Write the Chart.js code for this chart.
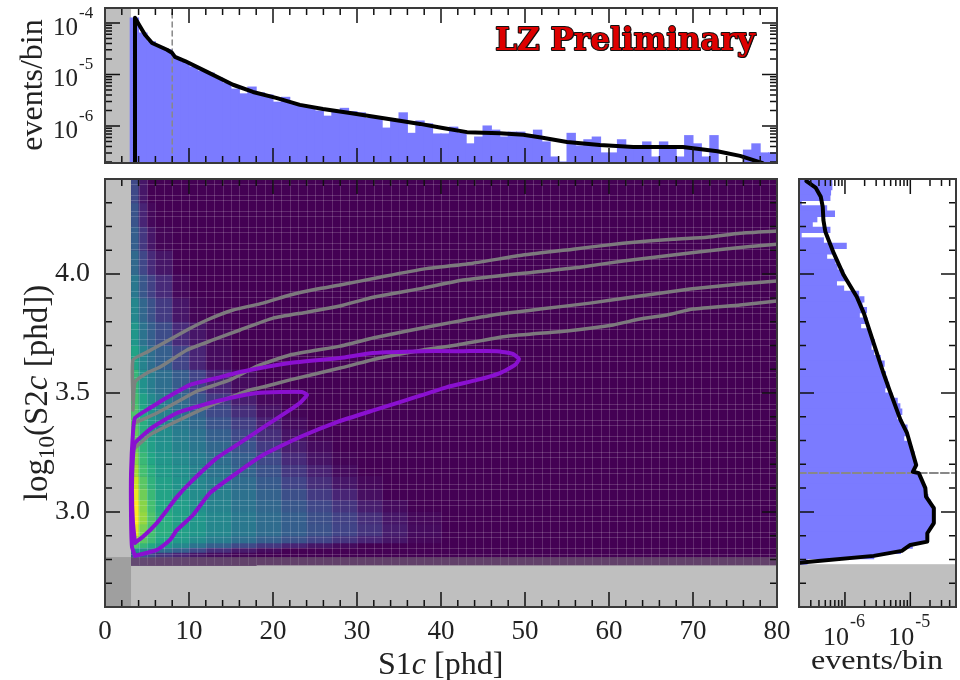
<!DOCTYPE html>
<html>
<head>
<meta charset="utf-8">
<title>LZ Preliminary</title>
<script src="https://cdn.jsdelivr.net/npm/chart.js@4"></script>
<style>
    html, body { margin: 0; padding: 0; background: #fff; width: 960px; height: 680px; overflow: hidden; }
    canvas { position: absolute; }
    .rotulo { position: absolute; font-family: "Liberation Serif", serif; color: #222; white-space: nowrap; }
    .rotulo sub { font-size: 70%; line-height: 0; }
</style>
</head>
<body>
<canvas id="chartTopo" width="790" height="170" style="left:0;top:0"></canvas>
<canvas id="chartMapa" width="790" height="510" style="left:0;top:170px"></canvas>
<canvas id="chartLado" width="170" height="510" style="left:790px;top:170px"></canvas>

<div class="rotulo" style="left:378px;top:645px;font-size:32px">S1<i>c</i> [phd]</div>
<div class="rotulo" style="left:36px;top:393px;font-size:33px;transform:translate(-50%,-50%) rotate(-90deg)">log<sub>10</sub>(S2<i>c</i> [phd])</div>
<div class="rotulo" style="left:31px;top:85px;font-size:32px;transform:translate(-50%,-50%) rotate(-90deg)">events/bin</div>
<div class="rotulo" style="left:811px;top:645px;font-size:27px;transform:scaleX(1.19);transform-origin:left top">events/bin</div>

<script>
// --- S1c histogram (top panel), bins 3..79 phd, in units of 1e-6 events/bin ---
const s1BinStart = 3;
const s1BinEvents = [
    125, 64, 43, 34, 30, 21, 17, 14, 11.7, 10.7, 8.5, 6.8, 5.2, 4.2, 5.7, 4.4, 4.0, 2.9, 3.6, 2.6,
    2.4, 2.3, 1.95, 1.55, 2.0, 2.2, 1.9, 1.8, 1.4, 1.5, 0.91, 1.25, 1.8, 0.72, 1.25, 1.1, 0.70, 0.70, 0.95, 0.72,
    0.45, 0.61, 1.0, 0.83, 0.61, 0.76, 0.76, 0.61, 0.83, 0.49, 0.25, 0.2, 0.72, 0.41, 0.54, 0.61, 0.30, 0.30, 0.54, 0.37,
    0.37, 0.49, 0.25, 0.49, 0.35, 0.25, 0.65, 0.45, 0.25, 0.65, 0, 0, 0, 0.34, 0.45, 0.30, 0.30
];
// model curve: S1c and log10(events/bin)
const s1CurveX = [3.57, 3.57, 3.93, 4.76, 5.6, 7.38, 7.98, 8.33, 9.52, 12.14, 15.24, 17.62, 20.48, 23.2, 25.95, 29.17, 35.1, 37.5, 40.2, 43.1, 47.0, 49.8, 52.1, 55, 58.9, 62.9, 68.8, 72.9, 75.6, 78.3];
const s1CurveLog = [-6.72, -3.90, -4.0, -4.23, -4.39, -4.52, -4.58, -4.66, -4.74, -4.95, -5.20, -5.34, -5.46, -5.59, -5.67, -5.75, -5.90, -5.96, -6.04, -6.12, -6.14, -6.17, -6.23, -6.31, -6.37, -6.41, -6.41, -6.49, -6.58, -6.72];
const s1Threshold = 8;

// --- log10(S2c) histogram (right panel), bins from the top, log10(events/bin) ---
const s2BinTop = 4.4;
const s2BinWidth = 0.0225;
const s2BinLog = [
    -6.20, -6.20, -6.22, -6.23, -6.67, -6.28, -6.16, -6.43, -6.50, -6.23, -6.67, -6.33, -5.98, -6.20, -6.28, -6.15, -6.12, -6.02,
    -5.99, -6.13, -6.02, -5.79, -5.71, -5.74, -5.67, -5.78, -5.66, -5.76, -5.64, -5.61, -5.55, -5.60, -5.56, -5.46, -5.40, -5.46,
    -5.38, -5.36, -5.33, -5.39, -5.28, -5.20, -5.16, -5.13, -5.21, -5.13, -5.05, -5.04, -5.10, -5.00, -4.97, -4.94, -4.92, -4.93,
    -4.94, -4.87, -4.84, -4.79, -4.76, -4.73, -4.69, -4.65, -4.65, -4.65, -4.67, -4.72, -4.77, -4.77, -4.97, -5.15, -5.56, -6.58
];
const s2CurveLog = [-6.59, -6.45, -6.37, -6.34, -6.33, -6.30, -6.17, -6.02, -5.82, -5.71, -5.56, -5.41, -5.32, -5.15, -5.05, -4.91, -4.96, -4.87, -4.77, -4.76, -4.64, -4.64, -4.74, -4.74, -5.0, -5.13, -5.56, -6.58, -6.69];
const s2CurveY = [4.391, 4.364, 4.325, 4.283, 4.227, 4.178, 4.087, 3.996, 3.905, 3.835, 3.709, 3.583, 3.513, 3.387, 3.331, 3.197, 3.169, 3.163, 3.10, 3.064, 3.016, 2.953, 2.91, 2.875, 2.861, 2.836, 2.815, 2.789, 2.786];
const s2Threshold = 3.164;

// --- heat map: column and row edges, rows from the bottom up (missing columns = 0) ---
const heatS1Edges = [3.1, 4, 5, 6, 8, 10, 12, 15, 18, 21, 24, 27, 30, 33, 36, 40, 80];
const heatS2Edges = [2.775, 2.81, 2.83, 2.85, 2.87, 2.9, 2.95, 3.0, 3.05, 3.1, 3.15, 3.2, 3.25, 3.3, 3.35, 3.4, 3.45, 3.5, 3.6, 3.7, 3.8, 3.9, 4.0, 4.1, 4.2, 4.3, 4.4];
const heatValues = [
    [.05, .05, .04, .03, .03, .02, .02, .01],
    [.3, .28, .22, .15, .1, .06, .03, .01],
    [.5, .48, .42, .36, .3, .22, .13, .07, .03],
    [.72, .66, .6, .52, .46, .38, .3, .22, .16, .1, .06, .03],
    [.86, .74, .68, .6, .54, .48, .42, .36, .3, .25, .2, .15, .1, .06, .02],
    [.96, .8, .7, .62, .56, .52, .46, .4, .35, .3, .25, .2, .15, .08, .03],
    [1, .84, .72, .62, .56, .52, .46, .4, .35, .3, .24, .19, .13, .06, .02],
    [1, .82, .7, .6, .55, .5, .44, .38, .33, .27, .21, .15, .08, .03],
    [.97, .78, .67, .58, .53, .48, .43, .37, .31, .24, .17, .1, .04],
    [.92, .74, .64, .56, .51, .46, .41, .35, .28, .2, .13, .06, .02],
    [.86, .7, .62, .54, .49, .44, .38, .32, .25, .16, .09, .03],
    [.82, .67, .59, .52, .47, .42, .36, .3, .22, .12, .05, .01],
    [.78, .64, .56, .5, .44, .39, .33, .26, .17, .08, .03],
    [.76, .63, .54, .48, .42, .37, .3, .22, .13, .05, .01],
    [.74, .62, .52, .45, .39, .34, .26, .18, .09, .03],
    [.72, .6, .5, .43, .37, .31, .22, .13, .05, .01],
    [.7, .57, .47, .41, .34, .27, .17, .08, .02],
    [.66, .5, .42, .36, .29, .2, .1, .03],
    [.58, .44, .36, .3, .2, .1, .03],
    [.52, .38, .3, .23, .12, .06, .02],
    [.46, .33, .25, .17, .06, .01],
    [.4, .27, .19, .12, .02],
    [.34, .21, .12, .06],
    [.3, .16, .06, .01],
    [.26, .1, .02],
    [.22, .06]
];
const viridis = ['#440154', '#482475', '#414487', '#355f8d', '#2a788e', '#21918c', '#22a884', '#44bf70', '#7ad151', '#bddf26', '#fde725'];

// --- contours: S1c and log10(S2c) ---
const grey1X = [3.33, 3.33, 5.0, 6.55, 9.76, 12.14, 15.24, 18.81, 22.02, 25.24, 27.98, 32.74, 37.86, 43.81, 49.76, 55.71, 61.67, 67.62, 71.67, 75.6, 80];
const grey1Y = [3.47, 3.639, 3.672, 3.702, 3.765, 3.807, 3.849, 3.878, 3.912, 3.937, 3.954, 3.987, 4.021, 4.046, 4.080, 4.105, 4.130, 4.147, 4.155, 4.172, 4.181];
const grey2X = [3.33, 3.57, 5.0, 6.55, 9.76, 12.86, 16.07, 20.0, 24.05, 27.98, 31.9, 37.86, 42.62, 50.95, 56.55, 61.67, 67.62, 73.57, 80];
const grey2Y = [3.429, 3.546, 3.584, 3.609, 3.681, 3.723, 3.765, 3.815, 3.840, 3.866, 3.903, 3.941, 3.975, 4.008, 4.029, 4.055, 4.080, 4.105, 4.126];
const grey3X = [3.57, 6.19, 8.57, 10.95, 14.88, 18.1, 22.02, 27.98, 31.9, 35.95, 41.43, 47.02, 51.79, 57.74, 63.69, 69.64, 75.6, 80];
const grey3Y = [3.374, 3.416, 3.462, 3.508, 3.555, 3.613, 3.660, 3.697, 3.731, 3.761, 3.798, 3.832, 3.853, 3.878, 3.908, 3.937, 3.958, 3.971];
const grey4X = [3.57, 5.36, 8.1, 12.14, 17.26, 18.81, 22.02, 27.98, 32.74, 37.86, 41.9, 47.86, 55.0, 60.48, 63.69, 66.9, 70.0, 75.6, 80];
const grey4Y = [3.269, 3.324, 3.374, 3.441, 3.513, 3.525, 3.555, 3.605, 3.647, 3.681, 3.702, 3.739, 3.761, 3.786, 3.811, 3.828, 3.853, 3.870, 3.887];
const innerX = [3.57, 4.52, 6.19, 7.38, 8.57, 10.12, 13.33, 16.07, 19.29, 22.02, 23.21, 24.05, 23.45, 20.83, 18.1, 14.88, 11.67, 8.57, 5.71, 3.57, 3.33, 3.21, 3.33, 3.57];
const innerY = [2.870, 2.895, 2.954, 3.008, 3.063, 3.122, 3.227, 3.290, 3.366, 3.429, 3.458, 3.492, 3.504, 3.504, 3.5, 3.479, 3.450, 3.416, 3.357, 3.290, 3.231, 3.092, 2.954, 2.870];
const outerX = [3.57, 6.19, 7.74, 8.57, 10.48, 12.5, 15.71, 18.81, 23.21, 27.62, 32.14, 35.95, 40.71, 44.29, 47.02, 48.81, 49.29, 48.57, 46.67, 42.62, 37.86, 31.9, 27.98, 22.02, 16.07, 13.33, 10.12, 6.9, 5.36, 3.57, 3.33, 3.1, 3.1, 3.21, 3.57];
const outerY = [2.815, 2.840, 2.882, 2.924, 2.987, 3.080, 3.164, 3.239, 3.315, 3.378, 3.429, 3.471, 3.525, 3.555, 3.584, 3.618, 3.643, 3.664, 3.676, 3.676, 3.676, 3.668, 3.647, 3.626, 3.588, 3.563, 3.534, 3.471, 3.437, 3.395, 3.332, 3.164, 2.979, 2.853, 2.815];

// --- axes ---
const s1Ticks = [0, 2, 4, 6, 8, 10, 12, 14, 16, 18, 20, 22, 24, 26, 28, 30, 32, 34, 36, 38, 40, 42, 44, 46, 48, 50, 52, 54, 56, 58, 60, 62, 64, 66, 68, 70, 72, 74, 76, 78, 80];
const s2Ticks = [2.6, 2.7, 2.8, 2.9, 3.0, 3.1, 3.2, 3.3, 3.4, 3.5, 3.6, 3.7, 3.8, 3.9, 4.0, 4.1, 4.2, 4.3];
const topEventTicks = [2e-7, 3e-7, 4e-7, 5e-7, 6e-7, 7e-7, 8e-7, 9e-7, 1e-6, 2e-6, 3e-6, 4e-6, 5e-6, 6e-6, 7e-6, 8e-6, 9e-6, 1e-5, 2e-5, 3e-5, 4e-5, 5e-5, 6e-5, 7e-5, 8e-5, 9e-5, 1e-4];
const sideEventTicks = [2e-7, 3e-7, 4e-7, 5e-7, 6e-7, 7e-7, 8e-7, 9e-7, 1e-6, 2e-6, 3e-6, 4e-6, 5e-6, 6e-6, 7e-6, 8e-6, 9e-6, 1e-5, 2e-5, 3e-5, 4e-5];

const COR_HIST = '#7b7bff';
const COR_MASCARA = 'rgba(128,128,128,0.5)';
const COR_MOLDURA = '#3a3a3a';
const FONTE = '"Liberation Serif", serif';

function pontos(xs, ys) { return xs.map((x, i) => ({ x: x, y: ys[i] })); }
function potencia(v) { return Math.abs(Math.log10(v) - Math.round(Math.log10(v))) < 1e-6; }
function expoente(v) { return String(Math.round(Math.log10(v))); }

function misturar(c1, c2, t) {
    const a = parseInt(c1.slice(1), 16), b = parseInt(c2.slice(1), 16);
    const canal = s => Math.round(((a >> s) & 255) * (1 - t) + ((b >> s) & 255) * t);
    return 'rgb(' + canal(16) + ',' + canal(8) + ',' + canal(0) + ')';
}
function corMapa(v) {
    const p = v * (viridis.length - 1), i = Math.min(viridis.length - 2, Math.floor(p));
    return misturar(viridis[i], viridis[i + 1], p - i);
}

function linha(dados, cor, largura, extra) {
    return Object.assign({
        type: 'scatter', showLine: true, data: dados, borderColor: cor, backgroundColor: cor,
        borderWidth: largura, pointRadius: 0, tension: 0.15, borderJoinStyle: 'round', borderCapStyle: 'round', order: 0
    }, extra || {});
}

// inward ticks on the four sides, and the panel frame
function desenharMoldura(chart, majorX, majorY) {
    const { ctx, chartArea: a, scales } = chart;
    ctx.save();
    ctx.strokeStyle = '#111';
    ctx.lineWidth = 1.5;
    scales.x.ticks.forEach(t => {
        const px = scales.x.getPixelForValue(t.value), h = majorX(t.value) ? 15 : 7;
        ctx.beginPath();
        ctx.moveTo(px, a.top); ctx.lineTo(px, a.top + h);
        ctx.moveTo(px, a.bottom); ctx.lineTo(px, a.bottom - h);
        ctx.stroke();
    });
    scales.y.ticks.forEach(t => {
        const py = scales.y.getPixelForValue(t.value), h = majorY(t.value) ? 15 : 7;
        ctx.beginPath();
        ctx.moveTo(a.left, py); ctx.lineTo(a.left + h, py);
        ctx.moveTo(a.right, py); ctx.lineTo(a.right - h, py);
        ctx.stroke();
    });
    ctx.strokeStyle = COR_MOLDURA;
    ctx.lineWidth = 2;
    ctx.strokeRect(a.left, a.top, a.right - a.left, a.bottom - a.top);
    ctx.restore();
}

const majorS1 = v => v % 10 === 0;
const majorS2 = v => Math.abs(v * 2 - Math.round(v * 2)) < 1e-6;

// --- top panel ---
const pluginTopo = {
    id: 'pluginTopo',
    beforeDatasetsDraw(chart) {
        const { ctx, chartArea: a, scales } = chart;
        ctx.fillStyle = COR_MASCARA;
        ctx.fillRect(a.left, a.top, scales.x.getPixelForValue(3.1) - a.left, a.bottom - a.top);
    },
    afterDraw(chart) {
        const { ctx, scales } = chart;
        desenharMoldura(chart, majorS1, potencia);
        ctx.save();
        ctx.fillStyle = '#222';
        scales.y.ticks.filter(t => potencia(t.value)).forEach(t => {
            const py = scales.y.getPixelForValue(t.value);
            ctx.textAlign = 'right';
            ctx.font = '25px ' + FONTE;
            ctx.fillText('10', 78, py + 12);
            ctx.textAlign = 'left';
            ctx.font = '17px ' + FONTE;
            ctx.fillText(expoente(t.value), 79, py - 5);
        });
        ctx.font = 'bold 31px "DejaVu Serif", serif';
        ctx.textAlign = 'right';
        ctx.lineJoin = 'round';
        ctx.lineWidth = 2;
        ctx.strokeStyle = '#111';
        ctx.fillStyle = '#111';
        ctx.fillText('LZ Preliminary', 756, 51);
        ctx.strokeText('LZ Preliminary', 755, 50);
        ctx.fillStyle = '#dd0000';
        ctx.fillText('LZ Preliminary', 755, 50);
        ctx.restore();
    }
};

new Chart(document.getElementById('chartTopo').getContext('2d'), {
    type: 'bar',
    plugins: [pluginTopo],
    data: {
        datasets: [
            linha(pontos(s1CurveX, s1CurveLog.map(e => 10 ** e)), '#000', 4, { tension: 0 }),
            linha([{ x: s1Threshold, y: 2e-7 }, { x: s1Threshold, y: 2e-4 }], '#888', 1.5, { borderDash: [5, 4], tension: 0 }),
            {
                type: 'bar', order: 1, backgroundColor: COR_HIST, borderWidth: 0, inflateAmount: 0.5,
                barPercentage: 1, categoryPercentage: 1,
                data: s1BinEvents.map((v, i) => ({ x: s1BinStart + i + 0.5, y: v * 1e-6 }))
            }
        ]
    },
    options: {
        responsive: false, animation: false, events: [],
        layout: { padding: { left: 105, right: 13, top: 8, bottom: 7 } },
        plugins: { legend: { display: false }, tooltip: { enabled: false } },
        scales: {
            x: { type: 'linear', offset: false, min: 0, max: 80, display: false, ticks: { autoSkip: false }, afterBuildTicks: s => { s.ticks = s1Ticks.map(v => ({ value: v })); } },
            y: { type: 'logarithmic', min: 1.91e-7, max: 1.95e-4, display: false, ticks: { autoSkip: false }, afterBuildTicks: s => { s.ticks = topEventTicks.map(v => ({ value: v })); } }
        }
    }
});

// --- main panel ---
const pluginMapa = {
    id: 'pluginMapa',
    beforeDraw(chart) {
        const { ctx, chartArea: a, scales } = chart;
        const x = scales.x, y = scales.y;
        ctx.save();
        ctx.fillStyle = viridis[0];
        ctx.fillRect(x.getPixelForValue(heatS1Edges[0]), y.getPixelForValue(4.4), a.right - x.getPixelForValue(heatS1Edges[0]), y.getPixelForValue(heatS2Edges[0]) - y.getPixelForValue(4.4));
        heatValues.forEach((linhaMapa, r) => {
            const y0 = y.getPixelForValue(heatS2Edges[r]), y1 = y.getPixelForValue(heatS2Edges[r + 1]);
            linhaMapa.forEach((v, c) => {
                const x0 = x.getPixelForValue(heatS1Edges[c]), x1 = x.getPixelForValue(heatS1Edges[c + 1]);
                ctx.fillStyle = corMapa(v);
                ctx.fillRect(x0, y1, x1 - x0 + 0.5, y0 - y1 + 0.5);
            });
        });
        ctx.restore();
    },
    beforeDatasetsDraw(chart) {
        const { ctx, chartArea: a, scales } = chart;
        const x = scales.x, y = scales.y;
        ctx.save();
        // fine white lines left by the binned mesh: every phd, and two rows out of three
        ctx.strokeStyle = 'rgba(255,255,255,0.17)';
        ctx.lineWidth = 1;
        const xIni = x.getPixelForValue(3.1), yFim = y.getPixelForValue(2.775);
        for (let s = 4; s < 80; s++) {
            const px = Math.round(x.getPixelForValue(s)) + 0.5;
            ctx.beginPath(); ctx.moveTo(px, a.top); ctx.lineTo(px, yFim); ctx.stroke();
        }
        for (let k = 1; k < 72; k++) {
            if (k % 3 === 2) continue;
            const py = Math.round(y.getPixelForValue(s2BinTop - s2BinWidth * k)) + 0.5;
            ctx.beginPath(); ctx.moveTo(xIni, py); ctx.lineTo(a.right, py); ctx.stroke();
        }
        ctx.fillStyle = COR_MASCARA;
        ctx.fillRect(a.left, a.top, xIni - a.left, a.bottom - a.top);
        const yMasc = y.getPixelForValue(2.81);
        ctx.fillRect(a.left, yMasc, a.right - a.left, a.bottom - yMasc);
        ctx.restore();
    },
    afterDraw(chart) {
        desenharMoldura(chart, majorS1, majorS2);
    }
};

new Chart(document.getElementById('chartMapa').getContext('2d'), {
    type: 'scatter',
    plugins: [pluginMapa],
    data: {
        datasets: [
            linha(pontos(innerX, innerY), '#8a10d0', 4),
            linha(pontos(outerX, outerY), '#8a10d0', 4),
            linha(pontos(grey1X, grey1Y), 'rgba(128,128,128,0.95)', 3.5),
            linha(pontos(grey2X, grey2Y), 'rgba(128,128,128,0.95)', 3.5),
            linha(pontos(grey3X, grey3Y), 'rgba(128,128,128,0.95)', 3.5),
            linha(pontos(grey4X, grey4Y), 'rgba(128,128,128,0.95)', 3.5)
        ]
    },
    options: {
        responsive: false, animation: false, events: [],
        layout: { padding: { left: 0, right: 13, top: 9, bottom: 0 } },
        plugins: { legend: { display: false }, tooltip: { enabled: false } },
        scales: {
            x: {
                type: 'linear', min: 0, max: 80,
                grid: { display: false }, border: { display: false },
                afterBuildTicks: s => { s.ticks = s1Ticks.map(v => ({ value: v })); },
                afterFit: s => { s.height = 73; s.paddingLeft = 0; s.paddingRight = 0; },
                ticks: {
                    autoSkip: false, maxRotation: 0, padding: 1, color: '#222',
                    font: { family: FONTE, size: 27 },
                    callback: v => (majorS1(v) ? String(v) : '')
                }
            },
            y: {
                type: 'linear', min: 2.6, max: 4.4,
                grid: { display: false }, border: { display: false },
                afterBuildTicks: s => { s.ticks = s2Ticks.map(v => ({ value: v })); },
                afterFit: s => { s.width = 105; s.paddingTop = 0; s.paddingBottom = 0; },
                ticks: {
                    autoSkip: false, padding: 7, color: '#222',
                    font: { family: FONTE, size: 28 },
                    callback: v => (majorS2(v) && v > 2.9 ? v.toFixed(1) : '')
                }
            }
        }
    }
});

// --- right panel ---
const pluginLado = {
    id: 'pluginLado',
    beforeDatasetsDraw(chart) {
        const { ctx, chartArea: a, scales } = chart;
        const yMasc = scales.y.getPixelForValue(2.78);
        ctx.fillStyle = COR_MASCARA;
        ctx.fillRect(a.left, yMasc, a.right - a.left, a.bottom - yMasc);
    },
    afterDraw(chart) {
        const { ctx, chartArea: a, scales } = chart;
        desenharMoldura(chart, potencia, majorS2);
        ctx.save();
        ctx.fillStyle = '#222';
        scales.x.ticks.filter(t => potencia(t.value)).forEach(t => {
            const px = scales.x.getPixelForValue(t.value);
            ctx.textAlign = 'left';
            ctx.font = '26px ' + FONTE;
            ctx.fillText('10', px - 22, a.bottom + 38);
            ctx.font = '18px ' + FONTE;
            ctx.fillText(expoente(t.value), px + 5, a.bottom + 20);
        });
        ctx.restore();
    }
};

new Chart(document.getElementById('chartLado').getContext('2d'), {
    type: 'bar',
    plugins: [pluginLado],
    data: {
        datasets: [
            linha(pontos(s2CurveLog.map(e => 10 ** e), s2CurveY), '#000', 4, { tension: 0 }),
            linha([{ x: 1.9e-7, y: s2Threshold }, { x: 5.1e-5, y: s2Threshold }], '#888', 2, { borderDash: [8, 3], tension: 0 }),
            {
                type: 'bar', order: 1, indexAxis: 'y', backgroundColor: COR_HIST, borderWidth: 0, inflateAmount: 0.5,
                barPercentage: 1, categoryPercentage: 1,
                data: s2BinLog.map((e, k) => ({ x: 10 ** e, y: s2BinTop - s2BinWidth * (k + 0.5) }))
            }
        ]
    },
    options: {
        indexAxis: 'y',
        responsive: false, animation: false, events: [],
        layout: { padding: { left: 9, right: 4, top: 9, bottom: 73 } },
        plugins: { legend: { display: false }, tooltip: { enabled: false } },
        scales: {
            x: { type: 'logarithmic', min: 1.98e-7, max: 5.0e-5, display: false, ticks: { autoSkip: false }, afterBuildTicks: s => { s.ticks = sideEventTicks.map(v => ({ value: v })); } },
            y: { type: 'linear', offset: false, min: 2.6, max: 4.4, display: false, ticks: { autoSkip: false }, afterBuildTicks: s => { s.ticks = s2Ticks.map(v => ({ value: v })); } }
        }
    }
});
</script>
</body>
</html>
